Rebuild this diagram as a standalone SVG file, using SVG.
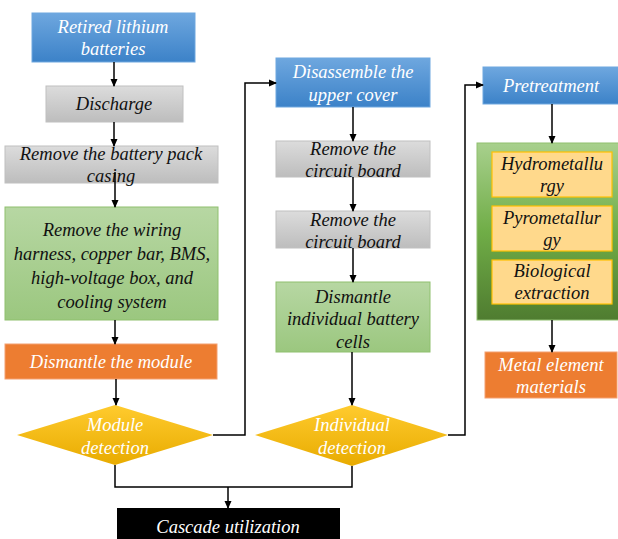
<svg xmlns="http://www.w3.org/2000/svg" width="618" height="539" viewBox="0 0 618 539">
<defs>
<linearGradient id="gBlue" x1="0" y1="0" x2="0" y2="1"><stop offset="0" stop-color="#6ea7df"/><stop offset="1" stop-color="#3c82c8"/></linearGradient>
<linearGradient id="gGray" x1="0" y1="0" x2="0" y2="1"><stop offset="0" stop-color="#dcdcdc"/><stop offset="1" stop-color="#bdbdbd"/></linearGradient>
<linearGradient id="gGreen" x1="0" y1="0" x2="0" y2="1"><stop offset="0" stop-color="#b7d7a3"/><stop offset="1" stop-color="#9bc77f"/></linearGradient>
<linearGradient id="gBig" x1="0" y1="0" x2="0" y2="1"><stop offset="0" stop-color="#a8d08d"/><stop offset="0.5" stop-color="#70ad47"/><stop offset="1" stop-color="#4f7c30"/></linearGradient>
<linearGradient id="gYel" x1="0" y1="0" x2="0" y2="1"><stop offset="0" stop-color="#ffcb2e"/><stop offset="1" stop-color="#e8ab00"/></linearGradient>
<marker id="arr" markerWidth="8" markerHeight="8" refX="7" refY="4" orient="auto" markerUnits="userSpaceOnUse"><path d="M0,0.5 L8,4 L0,7.5 Z" fill="#000"/></marker>
<style>
text{font-family:"Liberation Serif","Times New Roman",serif;font-style:italic;font-size:18.5px;text-anchor:middle}
.w{fill:#fff}.k{fill:#111}
.blue{fill:url(#gBlue);stroke:#6ea7df;stroke-width:1}
.gray{fill:url(#gGray);stroke:#c0c0c0;stroke-width:1}
.green{fill:url(#gGreen);stroke:#8fc06f;stroke-width:1}
.orange{fill:#ed7d31;stroke:#f4a070;stroke-width:1}
.dia{fill:url(#gYel)}
.sub{fill:#ffd98c;stroke:#ffc000;stroke-width:1.2}
.c{fill:none;stroke:#000;stroke-width:1.5}
.ca{fill:none;stroke:#000;stroke-width:1.5;marker-end:url(#arr)}
</style>
</defs>

<g id="n1"><rect class="blue" x="32" y="13" width="163" height="49"/><text class="w" x="113" y="33">Retired lithium</text><text class="w" x="113" y="55">batteries</text></g>
<g id="n2"><rect class="gray" x="46" y="86" width="137" height="36"/><text class="k" x="114" y="110">Discharge</text></g>
<g id="n3"><rect class="gray" x="5" y="146" width="213" height="37"/><text class="k" x="111" y="160">Remove the battery pack</text><text class="k" x="111" y="182">casing</text></g>
<g id="n4"><rect class="green" x="5" y="207" width="213" height="113"/><text class="k" x="112" y="236">Remove the wiring</text><text class="k" x="112" y="260">harness, copper bar, BMS,</text><text class="k" x="112" y="284">high-voltage box, and</text><text class="k" x="112" y="308">cooling system</text></g>
<g id="n5"><rect class="orange" x="5" y="344" width="212" height="35"/><text class="w" x="111" y="368">Dismantle the module</text></g>
<g id="n6"><polygon class="dia" points="115,405 213,435 115,465 17,435"/><text class="w" x="115" y="431">Module</text><text class="w" x="115" y="454">detection</text></g>

<g id="n7"><rect class="blue" x="276" y="58" width="154" height="49"/><text class="w" x="353" y="78">Disassemble the</text><text class="w" x="353" y="101">upper cover</text></g>
<g id="n8"><rect class="gray" x="276" y="141" width="154" height="36"/><text class="k" x="353" y="155">Remove the</text><text class="k" x="353" y="177">circuit board</text></g>
<g id="n9"><rect class="gray" x="276" y="211" width="154" height="37"/><text class="k" x="353" y="226">Remove the</text><text class="k" x="353" y="248">circuit board</text></g>
<g id="n10"><rect class="green" x="276" y="282" width="154" height="70"/><text class="k" x="353" y="303">Dismantle</text><text class="k" x="353" y="325">individual battery</text><text class="k" x="353" y="348">cells</text></g>
<g id="n11"><polygon class="dia" points="352,405 448,435 352,466 255,435"/><text class="w" x="352" y="431">Individual</text><text class="w" x="352" y="454">detection</text></g>

<g id="n12"><rect class="blue" x="483" y="67" width="140" height="37"/><text class="w" x="551" y="92">Pretreatment</text></g>
<g id="n13"><rect fill="url(#gBig)" stroke="#8fbf6f" stroke-width="1" x="477" y="143" width="146" height="177"/>
<rect class="sub" x="492" y="152" width="120" height="45"/><text class="k" x="552" y="170">Hydrometallu</text><text class="k" x="552" y="192">rgy</text>
<rect class="sub" x="492" y="206" width="120" height="45"/><text class="k" x="552" y="224">Pyrometallur</text><text class="k" x="552" y="246">gy</text>
<rect class="sub" x="492" y="260" width="120" height="44"/><text class="k" x="552" y="277">Biological</text><text class="k" x="552" y="299">extraction</text></g>
<g id="n14"><rect class="orange" x="485" y="352" width="132" height="46"/><text class="w" x="551" y="371">Metal element</text><text class="w" x="551" y="393">materials</text></g>

<g id="n15"><rect fill="#000" x="117" y="508" width="223" height="34"/><text class="w" x="228" y="533">Cascade utilization</text></g>

<g id="connectors">
<line class="ca" x1="114" y1="62" x2="114" y2="86"/>
<line class="ca" x1="114" y1="122" x2="114" y2="146"/>
<line class="ca" x1="115" y1="172" x2="115" y2="207"/>
<line class="ca" x1="115" y1="320" x2="115" y2="344"/>
<line class="ca" x1="116" y1="379" x2="116" y2="405"/>
<polyline class="ca" points="213,435 245,435 245,83 276,83"/>
<line class="ca" x1="353" y1="107" x2="353" y2="141"/>
<line class="ca" x1="353" y1="177" x2="353" y2="211"/>
<line class="ca" x1="353" y1="248" x2="353" y2="282"/>
<line class="ca" x1="352" y1="352" x2="352" y2="405"/>
<polyline class="ca" points="448,435 465,435 465,85 483,85"/>
<line class="ca" x1="552" y1="104" x2="552" y2="143"/>
<line class="ca" x1="552" y1="320" x2="552" y2="352"/>
<polyline class="c" points="115,465 115,487 352,487 352,466"/>
<line class="ca" x1="228" y1="487" x2="228" y2="508"/>
</g>
</svg>
